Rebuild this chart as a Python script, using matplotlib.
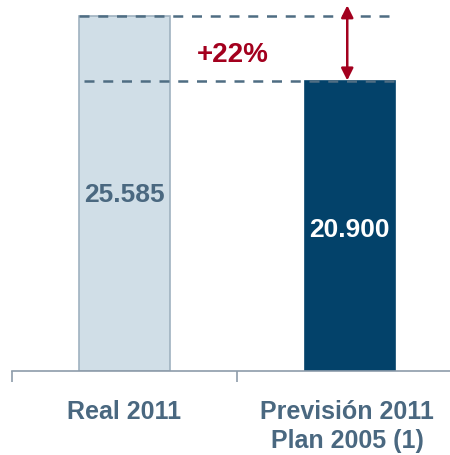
import matplotlib.pyplot as plt

plt.rcParams['font.family'] = ['Liberation Sans', 'DejaVu Sans']

categories = ['Real 2011', 'Previsión 2011\nPlan 2005 (1)']
values = [25585, 20900]
value_labels = ['25.585', '20.900']
change_label = '+22%'

bar_colors = ['#d0dee7', '#03426a']
label_colors = ['#4a6880', 'white']
slate = '#4a6880'
red = '#a3001e'

fig = plt.figure(figsize=(4.5, 4.56), dpi=100)
W, H = 450, 456
base_px, top_px = 372, 17
ax = fig.add_axes([12 / W, (H - base_px) / H, 1 - 12 / W, (base_px - 2) / H])

x = range(len(values))
ax.bar(x, values, width=0.4, color=bar_colors,
       edgecolor=['#9fb2c0', bar_colors[1]], linewidth=1.2, zorder=2)

px_per_val = (base_px - top_px) / values[0]
ax.set_ylim(0, (base_px - 2) / px_per_val)
ax.set_xlim(-0.5, 1.5 - 12 / 225)

for i, (v, lab) in enumerate(zip(values, value_labels)):
    ax.text(i, v * 0.5 - (0 if i == 0 else 250), lab, ha='center', va='center',
            fontsize=19, fontweight='bold', color=label_colors[i], zorder=3)

# reference lines at both bar tops
ax.plot([-0.2, 1.18], [values[0], values[0]], ls=(0, (4, 3.5)), color='#4f6d83',
        lw=1.8, zorder=3)
ax.plot([-0.18, 1.2], [values[1], values[1]], ls=(0, (4, 3.5)), color='#4f6d83',
        lw=1.8, zorder=3)

# difference arrow
ax.annotate('', xy=(0.99, values[1] + 40), xytext=(0.99, values[0] * 1.03),
            arrowprops=dict(arrowstyle='<|-|>', color=red, lw=1.8,
                            mutation_scale=18, shrinkA=0, shrinkB=0),
            annotation_clip=False, zorder=4)
ax.text(0.48, (values[0] + values[1]) / 2 - 400, change_label, ha='center',
        va='center', fontsize=20, fontweight='bold', color=red)

for s in ['top', 'right', 'left']:
    ax.spines[s].set_visible(False)
ax.spines['bottom'].set_color('#8d9caa')
ax.spines['bottom'].set_linewidth(1.2)
ax.set_yticks([])
ax.set_xticks([-0.5, 0.5])
ax.set_xticklabels([])
ax.tick_params(axis='x', length=8, width=1.2, color='#8d9caa', direction='out')

for i, c in enumerate(categories):
    ax.text(i + (0.0 if i == 0 else -0.01), -0.075, c, transform=ax.get_xaxis_transform(),
            ha='center', va='top', fontsize=18, fontweight='bold', color=slate,
            linespacing=1.3)

fig.savefig('out.png', dpi=100)
